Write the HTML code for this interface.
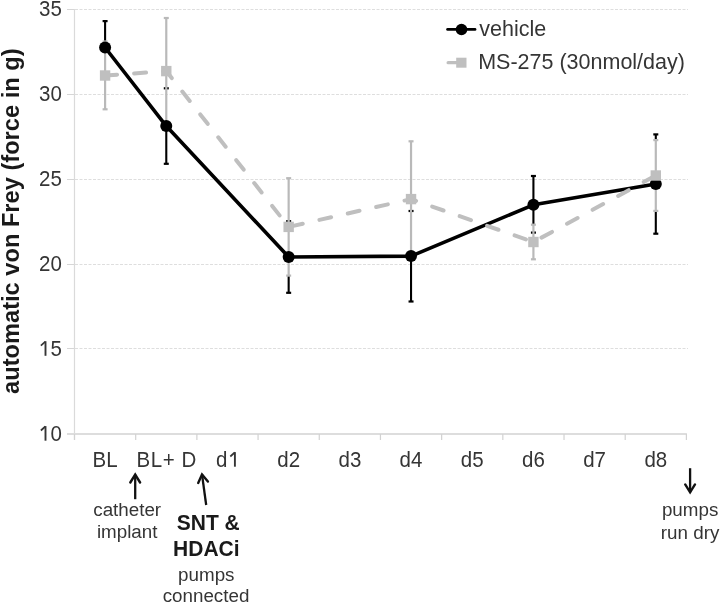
<!DOCTYPE html><html><head><meta charset="utf-8"><style>html,body{margin:0;padding:0;background:#fff;}svg{display:block;filter:grayscale(1)}text{font-family:"Liberation Sans",sans-serif;}</style></head><body>
<svg width="721" height="604" viewBox="0 0 721 604">
<rect width="721" height="604" fill="#fff"/>
<line x1="75" y1="9.5" x2="688" y2="9.5" stroke="#dedede" stroke-width="1" stroke-dasharray="3 1.5"/>
<line x1="67" y1="9.5" x2="74.5" y2="9.5" stroke="#d6d6d6" stroke-width="1"/>
<line x1="75" y1="94.5" x2="688" y2="94.5" stroke="#dedede" stroke-width="1" stroke-dasharray="3 1.5"/>
<line x1="67" y1="94.5" x2="74.5" y2="94.5" stroke="#d6d6d6" stroke-width="1"/>
<line x1="75" y1="179.5" x2="688" y2="179.5" stroke="#dedede" stroke-width="1" stroke-dasharray="3 1.5"/>
<line x1="67" y1="179.5" x2="74.5" y2="179.5" stroke="#d6d6d6" stroke-width="1"/>
<line x1="75" y1="264.5" x2="688" y2="264.5" stroke="#dedede" stroke-width="1" stroke-dasharray="3 1.5"/>
<line x1="67" y1="264.5" x2="74.5" y2="264.5" stroke="#d6d6d6" stroke-width="1"/>
<line x1="75" y1="348.5" x2="688" y2="348.5" stroke="#dedede" stroke-width="1" stroke-dasharray="3 1.5"/>
<line x1="67" y1="348.5" x2="74.5" y2="348.5" stroke="#d6d6d6" stroke-width="1"/>
<line x1="74.5" y1="9" x2="74.5" y2="440" stroke="#dadada" stroke-width="1.2"/>
<line x1="67" y1="434" x2="686.9" y2="434" stroke="#dddddd" stroke-width="2"/>
<line x1="74.50" y1="434" x2="74.50" y2="440" stroke="#d2d2d2" stroke-width="1.2"/>
<line x1="135.69" y1="434" x2="135.69" y2="440" stroke="#d2d2d2" stroke-width="1.2"/>
<line x1="196.88" y1="434" x2="196.88" y2="440" stroke="#d2d2d2" stroke-width="1.2"/>
<line x1="258.07" y1="434" x2="258.07" y2="440" stroke="#d2d2d2" stroke-width="1.2"/>
<line x1="319.26" y1="434" x2="319.26" y2="440" stroke="#d2d2d2" stroke-width="1.2"/>
<line x1="380.45" y1="434" x2="380.45" y2="440" stroke="#d2d2d2" stroke-width="1.2"/>
<line x1="441.64" y1="434" x2="441.64" y2="440" stroke="#d2d2d2" stroke-width="1.2"/>
<line x1="502.83" y1="434" x2="502.83" y2="440" stroke="#d2d2d2" stroke-width="1.2"/>
<line x1="564.02" y1="434" x2="564.02" y2="440" stroke="#d2d2d2" stroke-width="1.2"/>
<line x1="625.21" y1="434" x2="625.21" y2="440" stroke="#d2d2d2" stroke-width="1.2"/>
<line x1="686.40" y1="434" x2="686.40" y2="440" stroke="#d2d2d2" stroke-width="1.2"/>
<text transform="translate(61.9,16.4) scale(1,1.07)" font-size="20.5" fill="#353535" text-anchor="end">35</text>
<text transform="translate(61.9,101.4) scale(1,1.07)" font-size="20.5" fill="#353535" text-anchor="end">30</text>
<text transform="translate(61.9,186.4) scale(1,1.07)" font-size="20.5" fill="#353535" text-anchor="end">25</text>
<text transform="translate(61.9,271.4) scale(1,1.07)" font-size="20.5" fill="#353535" text-anchor="end">20</text>
<text transform="translate(61.9,355.8) scale(1,1.07)" font-size="20.5" fill="#353535" text-anchor="end">5</text>
<path d="M40.90,345.60 L45.30,341.60" stroke="#353535" stroke-width="1.7" fill="none" stroke-linecap="butt"/><line x1="45.50" y1="341.20" x2="45.50" y2="355.80" stroke="#353535" stroke-width="1.9"/>
<text transform="translate(61.9,440.7) scale(1,1.07)" font-size="20.5" fill="#353535" text-anchor="end">0</text>
<path d="M40.90,430.50 L45.30,426.50" stroke="#353535" stroke-width="1.7" fill="none" stroke-linecap="butt"/><line x1="45.50" y1="426.10" x2="45.50" y2="440.70" stroke="#353535" stroke-width="1.9"/>
<text transform="translate(19.2,221.2) rotate(-90)" font-size="23" font-weight="bold" fill="#1a1a1a" text-anchor="middle" textLength="345.5" lengthAdjust="spacingAndGlyphs">automatic von Frey (force in g)</text>
<text transform="translate(105.1,466.7) scale(1,1.07)" font-size="20.5" fill="#353535" text-anchor="middle">BL</text>
<text transform="translate(166.4,466.7) scale(1,1.07)" font-size="20.5" fill="#353535" text-anchor="middle" textLength="59.6" lengthAdjust="spacing">BL+ D</text>
<text transform="translate(216.1,466.7) scale(1,1.07)" font-size="20.5" fill="#353535">d</text>
<path d="M230.30,456.50 L234.70,452.50" stroke="#353535" stroke-width="1.7" fill="none" stroke-linecap="butt"/><line x1="234.90" y1="452.10" x2="234.90" y2="466.70" stroke="#353535" stroke-width="1.9"/>
<text transform="translate(288.7,466.7) scale(1,1.07)" font-size="20.5" fill="#353535" text-anchor="middle">d2</text>
<text transform="translate(349.9,466.7) scale(1,1.07)" font-size="20.5" fill="#353535" text-anchor="middle">d3</text>
<text transform="translate(411.0,466.7) scale(1,1.07)" font-size="20.5" fill="#353535" text-anchor="middle">d4</text>
<text transform="translate(472.2,466.7) scale(1,1.07)" font-size="20.5" fill="#353535" text-anchor="middle">d5</text>
<text transform="translate(533.4,466.7) scale(1,1.07)" font-size="20.5" fill="#353535" text-anchor="middle">d6</text>
<text transform="translate(594.6,466.7) scale(1,1.07)" font-size="20.5" fill="#353535" text-anchor="middle">d7</text>
<text transform="translate(655.8,466.7) scale(1,1.07)" font-size="20.5" fill="#353535" text-anchor="middle">d8</text>
<line x1="105.09" y1="21.10" x2="105.09" y2="41.50" stroke="#000" stroke-width="2.1"/>
<rect x="102.59" y="20.00" width="5" height="2.2" fill="#000"/>
<rect x="102.59" y="72.80" width="5" height="2.2" fill="#000"/>
<line x1="166.28" y1="124.20" x2="166.28" y2="163.80" stroke="#000" stroke-width="2.1"/>
<rect x="163.78" y="87.20" width="5" height="2.2" fill="#000"/>
<rect x="163.78" y="162.70" width="5" height="2.2" fill="#000"/>
<line x1="288.66" y1="275.60" x2="288.66" y2="292.80" stroke="#000" stroke-width="2.1"/>
<rect x="286.16" y="220.10" width="5" height="2.2" fill="#000"/>
<rect x="286.16" y="291.70" width="5" height="2.2" fill="#000"/>
<line x1="411.04" y1="256.90" x2="411.04" y2="301.50" stroke="#000" stroke-width="2.1"/>
<rect x="408.54" y="209.90" width="5" height="2.2" fill="#000"/>
<rect x="408.54" y="300.40" width="5" height="2.2" fill="#000"/>
<line x1="533.42" y1="176.00" x2="533.42" y2="224.70" stroke="#000" stroke-width="2.1"/>
<rect x="530.92" y="174.90" width="5" height="2.2" fill="#000"/>
<rect x="530.92" y="231.50" width="5" height="2.2" fill="#000"/>
<line x1="655.80" y1="134.40" x2="655.80" y2="140.10" stroke="#000" stroke-width="2.1"/>
<line x1="655.80" y1="210.90" x2="655.80" y2="233.70" stroke="#000" stroke-width="2.1"/>
<rect x="653.30" y="133.30" width="5" height="2.2" fill="#000"/>
<rect x="653.30" y="232.60" width="5" height="2.2" fill="#000"/>
<line x1="105.09" y1="41.50" x2="105.09" y2="109.30" stroke="#b9b9b9" stroke-width="2.2"/>
<rect x="102.59" y="40.40" width="5" height="2.2" fill="#b9b9b9"/>
<rect x="102.59" y="108.20" width="5" height="2.2" fill="#b9b9b9"/>
<line x1="166.28" y1="18.00" x2="166.28" y2="124.20" stroke="#b9b9b9" stroke-width="2.2"/>
<rect x="163.78" y="16.90" width="5" height="2.2" fill="#b9b9b9"/>
<rect x="163.78" y="123.10" width="5" height="2.2" fill="#b9b9b9"/>
<line x1="288.66" y1="178.20" x2="288.66" y2="275.60" stroke="#b9b9b9" stroke-width="2.2"/>
<rect x="286.16" y="177.10" width="5" height="2.2" fill="#b9b9b9"/>
<rect x="286.16" y="274.50" width="5" height="2.2" fill="#b9b9b9"/>
<line x1="411.04" y1="141.30" x2="411.04" y2="256.90" stroke="#b9b9b9" stroke-width="2.2"/>
<rect x="408.54" y="140.20" width="5" height="2.2" fill="#b9b9b9"/>
<rect x="408.54" y="255.80" width="5" height="2.2" fill="#b9b9b9"/>
<line x1="533.42" y1="224.70" x2="533.42" y2="259.30" stroke="#b9b9b9" stroke-width="2.2"/>
<rect x="530.92" y="223.60" width="5" height="2.2" fill="#b9b9b9"/>
<rect x="530.92" y="258.20" width="5" height="2.2" fill="#b9b9b9"/>
<line x1="655.80" y1="140.10" x2="655.80" y2="210.90" stroke="#b9b9b9" stroke-width="2.2"/>
<rect x="653.30" y="139.00" width="5" height="2.2" fill="#b9b9b9"/>
<rect x="653.30" y="209.80" width="5" height="2.2" fill="#b9b9b9"/>
<polyline points="105.09,47.5 166.28,126.1 288.66,257.0 411.04,256.1 533.42,204.8 655.80,184.0" fill="none" stroke="#000" stroke-width="3.6" stroke-linejoin="round"/>
<circle cx="105.09" cy="47.5" r="6" fill="#000"/>
<circle cx="166.28" cy="126.1" r="6" fill="#000"/>
<circle cx="288.66" cy="257.0" r="6" fill="#000"/>
<circle cx="411.04" cy="256.1" r="6" fill="#000"/>
<circle cx="533.42" cy="204.8" r="6" fill="#000"/>
<circle cx="655.80" cy="184.0" r="6" fill="#000"/>
<polyline points="105.09,75.5 166.28,71.1 288.66,226.9 411.04,199.1 533.42,242.0 655.80,175.5" fill="none" stroke="#bfbfbf" stroke-width="4" stroke-linecap="round" stroke-linejoin="round" stroke-dasharray="12 17.1"/>
<rect x="99.89" y="70.30" width="10.4" height="10.4" fill="#bfbfbf"/>
<rect x="161.09" y="65.90" width="10.4" height="10.4" fill="#bfbfbf"/>
<rect x="283.46" y="221.70" width="10.4" height="10.4" fill="#bfbfbf"/>
<rect x="405.84" y="193.90" width="10.4" height="10.4" fill="#bfbfbf"/>
<rect x="528.22" y="236.80" width="10.4" height="10.4" fill="#bfbfbf"/>
<rect x="650.60" y="170.30" width="10.4" height="10.4" fill="#bfbfbf"/>
<line x1="447.6" y1="29.4" x2="475" y2="29.4" stroke="#000" stroke-width="2.8" stroke-linecap="round"/>
<circle cx="461.5" cy="29.5" r="5.8" fill="#000"/>
<text x="479.3" y="36.2" font-size="21.5" fill="#353535">vehicle</text>
<line x1="448.1" y1="62.7" x2="458" y2="62.7" stroke="#bfbfbf" stroke-width="3.2" stroke-linecap="round"/>
<rect x="456.2" y="57.7" width="10.3" height="10" fill="#bfbfbf"/>
<text x="478.2" y="69.2" font-size="21.5" fill="#353535">MS-275 (30nmol/day)</text>
<line x1="135.2" y1="499.2" x2="135.2" y2="474.6" stroke="#111" stroke-width="2.3"/><polyline points="140.1,482.5 135.2,474.6 130.3,482.5" fill="none" stroke="#111" stroke-width="2.4" stroke-linecap="round"/>
<line x1="206.2" y1="505.0" x2="202.0" y2="474.4" stroke="#111" stroke-width="2.3"/><polyline points="207.9,481.6 202.0,474.4 198.2,482.9" fill="none" stroke="#111" stroke-width="2.4" stroke-linecap="round"/>
<line x1="690.1" y1="468.2" x2="690.1" y2="492.3" stroke="#111" stroke-width="2.3"/><polyline points="685.2,484.4 690.1,492.3 695.0,484.4" fill="none" stroke="#111" stroke-width="2.4" stroke-linecap="round"/>
<text x="127.2" y="515.8" font-size="18.8" fill="#353535" text-anchor="middle">catheter</text>
<text x="127.2" y="537.8" font-size="18.8" fill="#353535" text-anchor="middle">implant</text>
<text transform="translate(208.3,530) scale(1,1.09)" font-size="21" font-weight="bold" fill="#1a1a1a" text-anchor="middle">SNT &amp;</text>
<text transform="translate(206.3,555.9) scale(1,1.09)" font-size="21" font-weight="bold" fill="#1a1a1a" text-anchor="middle">HDACi</text>
<text x="206.3" y="581.3" font-size="18.8" fill="#353535" text-anchor="middle">pumps</text>
<text x="206.0" y="602.1" font-size="18.8" fill="#353535" text-anchor="middle">connected</text>
<text x="690.1" y="515.6" font-size="18.8" fill="#353535" text-anchor="middle">pumps</text>
<text x="690.1" y="538.9" font-size="18.8" fill="#353535" text-anchor="middle">run dry</text>
</svg></body></html>
